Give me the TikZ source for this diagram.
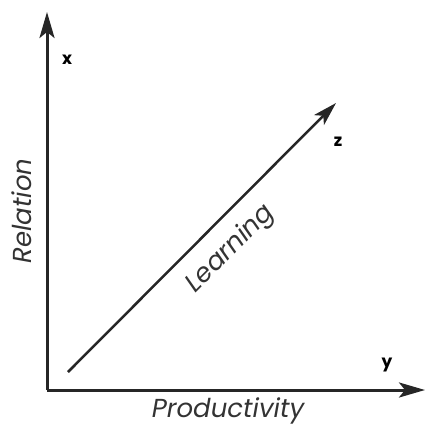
\documentclass[tikz,border=0pt]{standalone}
\usepackage{fontspec}
\setmainfont{Poppins}
\usepackage{tikz}
\usetikzlibrary{arrows.meta,positioning}

\begin{document}
\begin{tikzpicture}[
  x=1pt,y=-1pt,
  axis/.style={-{Stealth[length=26pt,width=15pt,inset=6pt]},line width=3pt,draw=black!85},
  growth/.style={-{Stealth[length=24pt,width=14pt,inset=6pt]},line width=2.5pt,draw=black!85},
  letter/.style={font=\bfseries\fontsize{17}{17}\selectfont},
  caption/.style={font=\itshape\fontsize{26}{26}\selectfont,text=black!80}
]
\useasboundingbox (0,0) rectangle (427,425);
\coordinate (origin) at (47,390);
\coordinate (xend) at (47,12);
\coordinate (yend) at (425,390);
\coordinate (start) at (68,372);
\coordinate (zend) at (336,103);
\draw[axis] (origin)--(xend);
\draw[axis] (origin)--(yend);
\draw[growth] (start)--(zend);
\node[letter] (xlabel) at (67,60) {x};
\node[letter] (zlabel) at (338,142) {z};
\node[letter] (ylabel) at (387,365) {y};
\node[caption] (prod) at (228,411) {Productivity};
\node[caption,rotate=90] (rel) at (22,211) {Relation};
\node[caption,rotate=45] (learn) at (231,249) {Learning};
\end{tikzpicture}
\end{document}
